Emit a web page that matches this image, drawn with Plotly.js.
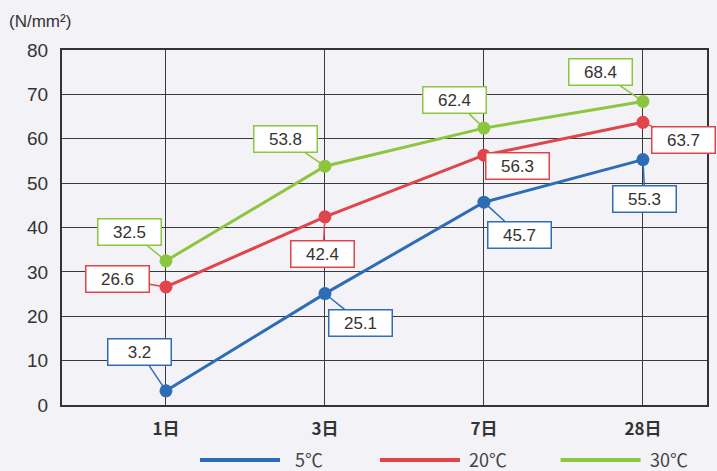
<!DOCTYPE html>
<html>
<head>
<meta charset="utf-8">
<script src="https://cdn.plot.ly/plotly-3.0.1.min.js"></script>
<style>
html,body{margin:0;padding:0;background:#f3f2f6;}
#chart{width:717px;height:471px;}
</style>
</head>
<body>
<div id="chart"></div>
<script>
// ---- data ----
const categories = ["1日", "3日", "7日", "28日"];
const seriesNames = ["5℃", "20℃", "30℃"];
const values5 = [3.2, 25.1, 45.7, 55.3];
const values20 = [26.6, 42.4, 56.3, 63.7];
const values30 = [32.5, 53.8, 62.4, 68.4];
const yTicks = [0, 10, 20, 30, 40, 50, 60, 70, 80];
const unitLabel = "(N/mm²)";

// ---- styles ----
const colors = ["#2e6db5", "#e0454b", "#8cc63e"];
const allValues = [values5, values20, values30];
const xIdx = categories.map((c, i) => i);

// label offsets (pixels) per series per point
const offsets = [
  [[-26, -39], [36, 29], [36, 33], [2, 39]],
  [[-48, -8], [-2, 37], [34, 11], [41, 18]],
  [[-36, -29], [-39, -27], [-29, -28], [-42, -29]]
];

const traces = allValues.map((vals, s) => ({
  x: xIdx,
  y: vals,
  type: "scatter",
  mode: "lines+markers",
  name: seriesNames[s],
  line: {color: colors[s], width: 3},
  marker: {color: colors[s], size: 13},
  showlegend: false,
  hoverinfo: "skip"
}));

const annotations = [];
allValues.forEach((vals, s) => {
  vals.forEach((v, i) => {
    annotations.push({
      x: i, y: v, xref: "x", yref: "y",
      text: v.toFixed(1),
      showarrow: true,
      arrowhead: 0,
      arrowwidth: 1.5,
      arrowcolor: colors[s],
      standoff: 5,
      ax: offsets[s][i][0],
      ay: offsets[s][i][1],
      bgcolor: "#ffffff",
      bordercolor: colors[s],
      borderwidth: 1.5,
      borderpad: 3,
      width: 56,
      font: {family: "Liberation Sans, Arial, sans-serif", size: 17, color: "#333333"}
    });
  });
});

// y unit label
annotations.push({
  xref: "paper", yref: "paper",
  x: -0.086, y: 1.08, xanchor: "left", yanchor: "middle",
  text: unitLabel, showarrow: false,
  font: {family: "Liberation Sans, Arial, sans-serif", size: 17, color: "#333333"}
});

// manual legend (long line samples)
const shapes = [];
const legLine = [[0.214, 0.338], [0.493, 0.617], [0.773, 0.897]];
const legText = [0.358, 0.628, 0.909];
seriesNames.forEach((n, s) => {
  shapes.push({
    type: "line", xref: "paper", yref: "paper",
    x0: legLine[s][0], x1: legLine[s][1], y0: -0.155, y1: -0.155,
    line: {color: colors[s], width: 4}
  });
  annotations.push({
    xref: "paper", yref: "paper",
    x: legText[s], y: -0.152, xanchor: "left", yanchor: "middle",
    text: n, showarrow: false,
    font: {family: "Noto Sans CJK JP, sans-serif", size: 18, color: "#444444"}
  });
});

const layout = {
  width: 717, height: 471,
  margin: {l: 62, r: 10, t: 50, b: 66},
  paper_bgcolor: "#f3f2f6",
  plot_bgcolor: "#f3f2f6",
  xaxis: {
    type: "linear",
    range: [-0.654, 3.403],
    tickvals: xIdx,
    ticktext: categories,
    showgrid: true, gridcolor: "#3a3a3a", gridwidth: 1,
    zeroline: false,
    showline: true, mirror: true, linecolor: "#333333", linewidth: 2,
    ticks: "",
    ticklabelstandoff: 8,
    tickfont: {family: "Noto Sans CJK JP, sans-serif", size: 17, color: "#333333", weight: "bold"},
    fixedrange: true
  },
  yaxis: {
    range: [0, 80],
    tickvals: yTicks,
    showgrid: true, gridcolor: "#3a3a3a", gridwidth: 1,
    zeroline: false,
    showline: true, mirror: true, linecolor: "#333333", linewidth: 2,
    ticks: "",
    ticklabelstandoff: 8,
    tickfont: {family: "Liberation Sans, Arial, sans-serif", size: 19, color: "#333333"},
    fixedrange: true
  },
  annotations: annotations,
  shapes: shapes,
  showlegend: false
};

Plotly.newPlot("chart", traces, layout, {displayModeBar: false, staticPlot: true});
</script>
</body>
</html>
